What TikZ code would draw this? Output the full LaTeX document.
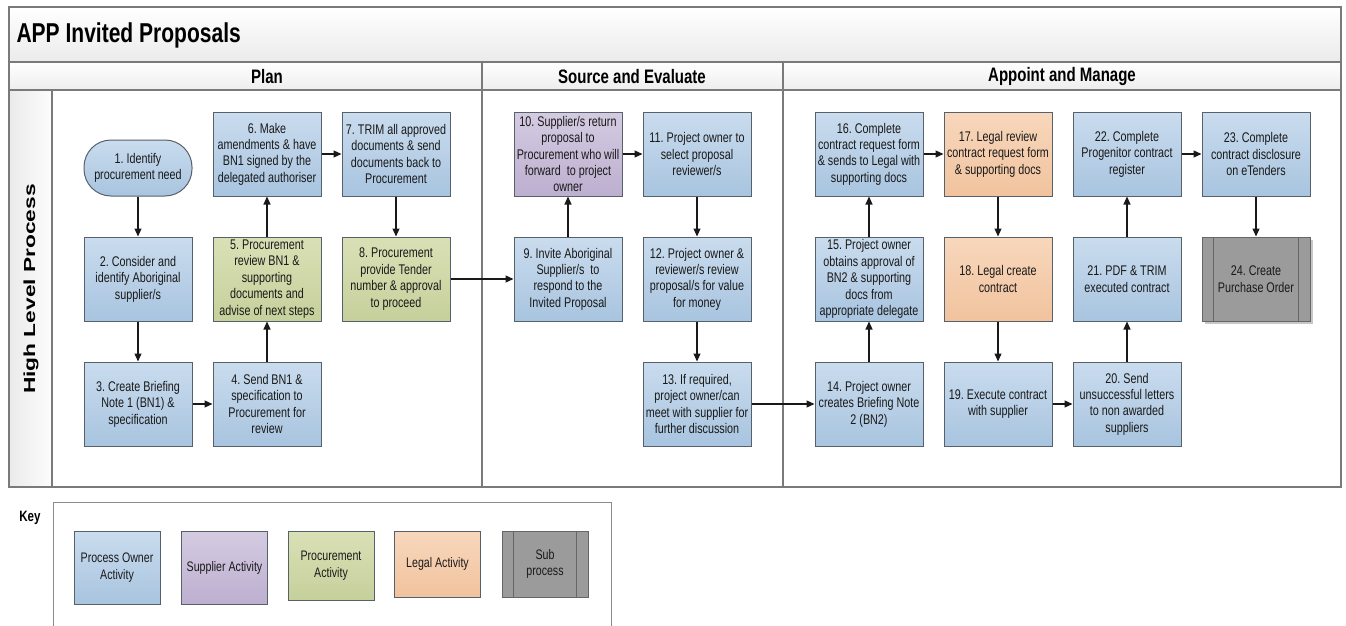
\documentclass[tikz,border=0pt]{standalone}
\usepackage{fontspec}
\setmainfont{Liberation Sans}[FakeStretch=0.77]
\newfontfamily\wideSans{Liberation Sans}
\usetikzlibrary{arrows.meta, shadows}
\frenchspacing
\definecolor{ownerTop}{HTML}{CADCEE}
\definecolor{ownerBot}{HTML}{A8C4DF}
\definecolor{supTop}{HTML}{D4CBE1}
\definecolor{supBot}{HTML}{BDAFD0}
\definecolor{procTop}{HTML}{DAE0B6}
\definecolor{procBot}{HTML}{C6D09B}
\definecolor{legalTop}{HTML}{F8D7BC}
\definecolor{legalBot}{HTML}{F1C39E}
\definecolor{subFill}{HTML}{9B9B9B}
\definecolor{boxEdge}{HTML}{56616C}
\definecolor{laneEdge}{HTML}{7A7A7A}
\tikzset{
  font=\fontsize{14}{16.4}\selectfont,
  % Set arrowhead
  >={Triangle[length=8pt, width=7pt]},
  % Connector between two steps
  link/.style={->, draw=black!90, line width=1.1pt},
  % General step
  stepbox/.style={draw=boxEdge, line width=1pt, shape=rectangle,
    minimum width=108pt, minimum height=84pt, inner sep=0pt,
    align=center, text=black!90},
  % Process owner activity
  owner/.style={stepbox, top color=ownerTop, bottom color=ownerBot},
  % Supplier activity
  supplier/.style={stepbox, top color=supTop, bottom color=supBot},
  % Procurement activity
  procure/.style={stepbox, top color=procTop, bottom color=procBot},
  % Legal activity
  legal/.style={stepbox, top color=legalTop, bottom color=legalBot},
  % Sub process
  subproc/.style={stepbox, fill=subFill, draw=black!60,
    drop shadow={shadow xshift=3pt, shadow yshift=-3pt, fill=black!22,
      opacity=1}},
  subline/.style={draw=black!60, line width=1pt},
  % Start of the process
  start/.style={owner, minimum height=56pt, rounded corners=27pt},
  % Lanes
  lane/.style={draw=laneEdge, line width=1.3pt},
  lanehead/.style={font=\fontsize{19.5}{21}\selectfont\bfseries},
  % Key entries
  keybox/.style={draw=boxEdge, line width=1pt, shape=rectangle,
    minimum width=86pt, inner sep=0pt, align=center,
    font=\fontsize{13.8}{16.4}\selectfont, text=black!90},
}

\begin{document}
\begin{tikzpicture}[x=1pt, y=1pt]
  \useasboundingbox (0,0) rectangle (1346,-626);

  % lanes
  \shade[top color=white, bottom color=black!8] (9,-7) rectangle (1341,-62);
  \shade[top color=white, bottom color=black!7] (9,-62) rectangle (1341,-90);
  \shade[left color=black!8, right color=black!1] (9,-90) rectangle (52,-487);
  \draw[lane] (9,-7) rectangle (1341,-487);
  \draw[lane] (9,-62) -- (1341,-62);
  \draw[lane] (9,-90) -- (1341,-90);
  \draw[lane] (52,-90) -- (52,-487);
  \draw[lane] (482,-62) -- (482,-487);
  \draw[lane] (783,-62) -- (783,-487);

  \node[anchor=west, font=\fontsize{27.3}{30}\selectfont\bfseries]
    (title) at (13,-35) {APP Invited Proposals};
  \node[lanehead] (plan) at (267,-76.5) {Plan};
  \node[lanehead] (source) at (632,-76.5) {Source and Evaluate};
  \node[lanehead] (appoint) at (1062,-76.5) {Appoint and Manage};
  \node[rotate=90, font=\wideSans\fontsize{16}{18}\selectfont\bfseries]
    (level) at (31,-289) {\scalebox{1.42}[1]{High Level Process}};

  % Plan
  \node[start] (s1) at (138,-168) {1. Identify\\procurement need};
  \node[owner] (s2) at (138,-279) {2. Consider and\\identify Aboriginal\\supplier/s};
  \node[owner] (s3) at (138,-404) {3. Create Briefing\\Note 1 (BN1) \&\\specification};
  \node[owner] (s4) at (267,-404) {4. Send BN1 \&\\specification to\\Procurement for\\review};
  \node[procure] (s5) at (267,-279) {5. Procurement\\review BN1 \&\\supporting\\documents and\\advise of next steps};
  \node[owner] (s6) at (267,-154) {6. Make\\amendments \& have\\BN1 signed by the\\delegated authoriser};
  \node[owner] (s7) at (396,-154) {7. TRIM all approved\\documents \& send\\documents back to\\Procurement};
  \node[procure] (s8) at (396,-279) {8. Procurement\\provide Tender\\number \& approval\\to proceed};

  % Source and Evaluate
  \node[owner] (s9) at (568,-279) {9. Invite Aboriginal\\Supplier/s\ \ to\\respond to the\\Invited Proposal};
  \node[supplier] (s10) at (568,-154) {10. Supplier/s return\\proposal to\\Procurement who will\\forward\ \ to project\\owner};
  \node[owner] (s11) at (697,-154) {11. Project owner to\\select proposal\\reviewer/s};
  \node[owner] (s12) at (697,-279) {12. Project owner \&\\reviewer/s review\\proposal/s for value\\for money};
  \node[owner] (s13) at (697,-404) {13. If required,\\project owner/can\\meet with supplier for\\further discussion};

  % Appoint and Manage
  \node[owner] (s14) at (869,-404) {14. Project owner\\creates Briefing Note\\2 (BN2)};
  \node[owner] (s15) at (869,-279) {15. Project owner\\obtains approval of\\BN2 \& supporting\\docs from\\appropriate delegate};
  \node[owner] (s16) at (869,-154) {16. Complete\\contract request form\\\& sends to Legal with\\supporting docs};
  \node[legal] (s17) at (998,-154) {17. Legal review\\contract request form\\\& supporting docs};
  \node[legal] (s18) at (998,-279) {18. Legal create\\contract};
  \node[owner] (s19) at (998,-404) {19. Execute contract\\with supplier};
  \node[owner] (s20) at (1127,-404) {20. Send\\unsuccessful letters\\to non awarded\\suppliers};
  \node[owner] (s21) at (1127,-279) {21. PDF \& TRIM\\executed contract};
  \node[owner] (s22) at (1127,-154) {22. Complete\\Progenitor contract\\register};
  \node[owner] (s23) at (1256,-154) {23. Complete\\contract disclosure\\on eTenders};
  \node[subproc] (s24) at (1256,-279) {24. Create\\Purchase Order};
  \draw[subline] ([xshift=12pt]s24.north west) -- ([xshift=12pt]s24.south west);
  \draw[subline] ([xshift=-12pt]s24.north east) -- ([xshift=-12pt]s24.south east);

  % flow
  \draw[link] (s1) -- (s2);
  \draw[link] (s2) -- (s3);
  \draw[link] (s3) -- (s4);
  \draw[link] (s4) -- (s5);
  \draw[link] (s5) -- (s6);
  \draw[link] (s6) -- (s7);
  \draw[link] (s7) -- (s8);
  \draw[link] (s8) -- (s9);
  \draw[link] (s9) -- (s10);
  \draw[link] (s10) -- (s11);
  \draw[link] (s11) -- (s12);
  \draw[link] (s12) -- (s13);
  \draw[link] (s13) -- (s14);
  \draw[link] (s14) -- (s15);
  \draw[link] (s15) -- (s16);
  \draw[link] (s16) -- (s17);
  \draw[link] (s17) -- (s18);
  \draw[link] (s18) -- (s19);
  \draw[link] (s19) -- (s20);
  \draw[link] (s20) -- (s21);
  \draw[link] (s21) -- (s22);
  \draw[link] (s22) -- (s23);
  \draw[link] (s23) -- (s24);

  % key
  \node[font=\fontsize{15}{16}\selectfont\bfseries] (key) at (30,-518) {Key};
  \draw[draw=black!45, line width=1pt] (53,-640) -- (53,-502) -- (611,-502) -- (611,-640);
  \node[keybox, minimum height=73pt, top color=ownerTop, bottom color=ownerBot]
    (k1) at (117,-567.5) {Process Owner\\Activity};
  \node[keybox, minimum height=73pt, top color=supTop, bottom color=supBot]
    (k2) at (224.5,-567.5) {Supplier Activity};
  \node[keybox, minimum height=69pt, top color=procTop, bottom color=procBot]
    (k3) at (331,-565.5) {Procurement\\Activity};
  \node[keybox, minimum height=66pt, top color=legalTop, bottom color=legalBot]
    (k4) at (437.5,-564) {Legal Activity};
  \node[keybox, minimum height=66pt, fill=subFill, draw=black!60]
    (k5) at (545,-564) {Sub\\process};
  \draw[subline] ([xshift=12pt]k5.north west) -- ([xshift=12pt]k5.south west);
  \draw[subline] ([xshift=-12pt]k5.north east) -- ([xshift=-12pt]k5.south east);
\end{tikzpicture}
\end{document}
